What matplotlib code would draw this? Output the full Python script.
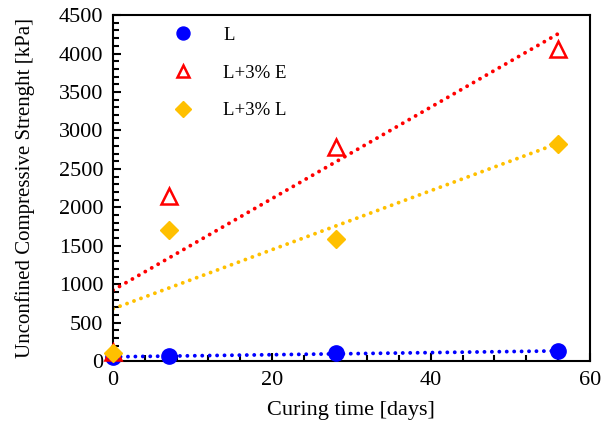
import numpy as np
import matplotlib.pyplot as plt
from matplotlib.ticker import MultipleLocator

plt.rcParams['font.family'] = ['Liberation Serif', 'DejaVu Serif']
plt.rcParams['font.size'] = 16

days = [0, 7, 28, 56]
L = [50, 70, 100, 130]
L_E = [120, 2150, 2780, 4060]
L_L = [100, 1710, 1590, 2820]

fig = plt.figure(figsize=(6.08, 4.32), dpi=100)
ax = fig.add_axes([0.186, 0.164, 0.784, 0.801])

xs = np.array([0, 56])
series = [
    (L, 'L', 'o', '#0000FF', dict(mfc='#0000FF', ms=11)),
    (L_E, 'L+3% E', '^', '#FF0000', dict(mfc='none', mew=1.8, ms=11)),
    (L_L, 'L+3% L', 'D', '#FFC000', dict(mfc='#FFC000', ms=9.5)),
]
for y, lab, m, c, kw in series:
    k, b = np.polyfit(days, y, 1)
    ax.plot(xs, k * xs + b, color=c, lw=2.8, ls=(0, (0.01, 1.9)),
            dash_capstyle='round', zorder=2)
for y, lab, m, c, kw in series:
    ax.plot(days, y, ls='none', marker=m, color=c, label=lab,
            zorder=3, clip_on=False, **kw)

ax.set_xlim(0, 60)
ax.set_ylim(0, 4500)
ax.xaxis.set_major_locator(MultipleLocator(20))
ax.xaxis.set_minor_locator(MultipleLocator(4))
ax.yaxis.set_major_locator(MultipleLocator(500))
ax.yaxis.set_minor_locator(MultipleLocator(100))
ax.tick_params(which='both', direction='in', top=False, right=False, width=1.5)
ax.tick_params(which='major', length=6, pad=7)
ax.tick_params(which='minor', length=4)
for s in ax.spines.values():
    s.set_linewidth(1.5)

ax.set_xlabel('Curing time [days]', labelpad=8)
ax.set_ylabel('Unconfined Compressive Strenght [kPa]', fontsize=15, labelpad=17)

ax.legend(loc='upper left', bbox_to_anchor=(0.072, 1.015),
          frameon=False, labelspacing=1.1, handletextpad=1.15, fontsize=13.5,
          markerscale=0.85)

fig.savefig('out.png', dpi=100)
